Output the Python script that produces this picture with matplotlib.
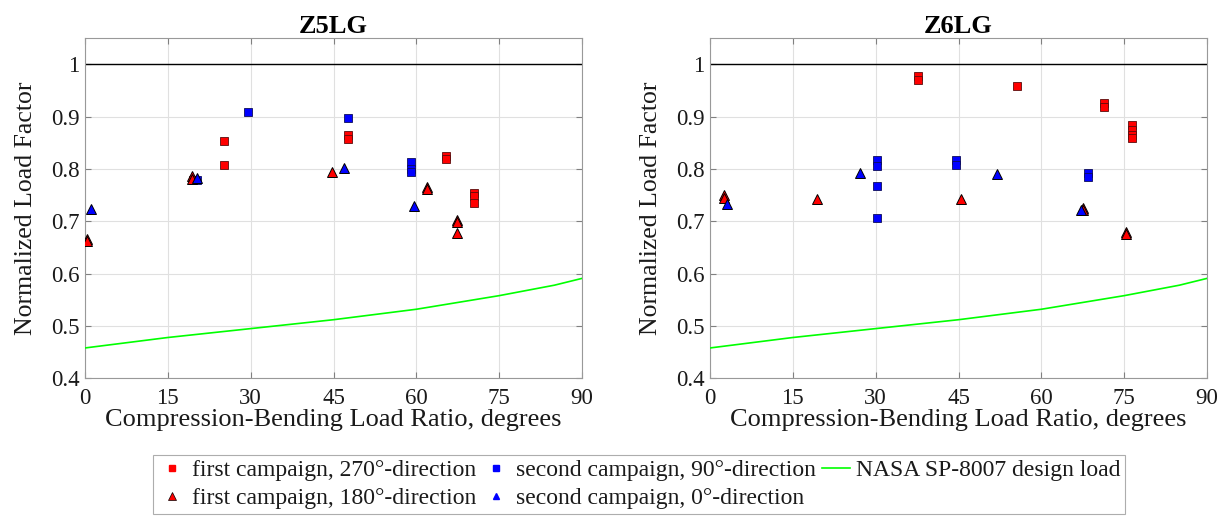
import matplotlib
matplotlib.use("Agg")
import matplotlib.pyplot as plt
from matplotlib.lines import Line2D

plt.rcParams['font.family'] = ['Liberation Serif', 'DejaVu Serif']

# ---------------- data ----------------
# Z5LG
z5_r_sq_x = [25.2, 25.2, 47.7, 47.7, 65.4, 65.4, 70.5, 70.5, 70.5, 19.6]
z5_r_sq_y = [0.854, 0.808, 0.865, 0.858, 0.825, 0.819, 0.754, 0.749, 0.735, 0.780]
z5_r_tr_x = [0.3, 0.3, 19.3, 19.4, 44.8, 61.9, 61.9, 67.3, 67.3, 67.3]
z5_r_tr_y = [0.667, 0.663, 0.786, 0.781, 0.795, 0.765, 0.762, 0.702, 0.699, 0.678]
z5_b_sq_x = [29.5, 47.6, 59.0, 59.0, 59.0, 20.3]
z5_b_sq_y = [0.910, 0.897, 0.813, 0.800, 0.795, 0.779]
z5_b_tr_x = [1.1, 20.2, 46.9, 59.6]
z5_b_tr_y = [0.724, 0.783, 0.803, 0.729]

# Z6LG
z6_r_sq_x = [37.6, 37.6, 55.6, 71.3, 71.3, 76.4, 76.4, 76.4, 76.4]
z6_r_sq_y = [0.977, 0.970, 0.959, 0.927, 0.918, 0.884, 0.875, 0.865, 0.859]
z6_r_tr_x = [2.6, 2.6, 19.3, 45.5, 67.6, 67.6, 75.3, 75.3]
z6_r_tr_y = [0.751, 0.745, 0.742, 0.743, 0.726, 0.722, 0.680, 0.676]
z6_b_sq_x = [30.3, 30.3, 30.3, 30.3, 44.6, 44.6, 68.4, 68.4]
z6_b_sq_y = [0.817, 0.805, 0.767, 0.706, 0.817, 0.808, 0.792, 0.784]
z6_b_tr_x = [3.1, 27.1, 52.0, 67.1]
z6_b_tr_y = [0.733, 0.792, 0.790, 0.721]

# NASA SP-8007 design load curve
nasa_x = [0, 15, 30, 45, 60, 67.5, 75, 85, 90]
nasa_y = [0.458, 0.478, 0.495, 0.512, 0.532, 0.545, 0.558, 0.578, 0.591]

titles = ["Z5LG", "Z6LG"]
xticks = [0, 15, 30, 45, 60, 75, 90]
yticks = [0.4, 0.5, 0.6, 0.7, 0.8, 0.9, 1.0]
ytick_labels = ["0.4", "0.5", "0.6", "0.7", "0.8", "0.9", "1"]
legend_labels = ["first campaign, 270\u00b0-direction",
                 "first campaign, 180\u00b0-direction",
                 "second campaign, 90\u00b0-direction",
                 "second campaign, 0\u00b0-direction",
                 "NASA SP-8007 design load"]

datasets = [
    (z5_r_sq_x, z5_r_sq_y, z5_r_tr_x, z5_r_tr_y, z5_b_sq_x, z5_b_sq_y, z5_b_tr_x, z5_b_tr_y),
    (z6_r_sq_x, z6_r_sq_y, z6_r_tr_x, z6_r_tr_y, z6_b_sq_x, z6_b_sq_y, z6_b_tr_x, z6_b_tr_y),
]

fig = plt.figure(figsize=(12.24, 5.16), dpi=100)
positions = [[85/1224, 1-378.3/516, 497/1224, 340/516],
             [710/1224, 1-378.3/516, 497/1224, 340/516]]

RED = (1.0, 0.0, 0.0)
BLUE = (0.0, 0.0, 1.0)
GREEN = (0.0, 1.0, 0.0)
TXT = (0.1, 0.1, 0.1)
sq_kw = dict(linestyle='none', marker='s', markersize=5.5, markeredgewidth=0.6)
tr_kw = dict(linestyle='none', marker='^', markersize=7, markeredgewidth=0.7)

for i, ax_pos in enumerate(positions):
    ax = fig.add_axes(ax_pos)
    rsx, rsy, rtx, rty, bsx, bsy, btx, bty = datasets[i]
    ax.axhline(1.0, color='k', lw=1.0, zorder=2)
    ax.plot(nasa_x, nasa_y, color=GREEN, lw=1.2, zorder=3)
    ax.plot(rsx, rsy, color=RED, markerfacecolor=RED, markeredgecolor=(0.35, 0.05, 0.05), zorder=4, **sq_kw)
    ax.plot(bsx, bsy, color=BLUE, markerfacecolor=BLUE, markeredgecolor=(0.05, 0.05, 0.35), zorder=4, **sq_kw)
    ax.plot(rtx, rty, color=RED, markerfacecolor=RED, markeredgecolor='k', zorder=5, **tr_kw)
    ax.plot(btx, bty, color=BLUE, markerfacecolor=BLUE, markeredgecolor='k', zorder=5, **tr_kw)
    ax.set_xlim(0, 90)
    ax.set_ylim(0.4, 1.05)
    ax.set_xticks(xticks)
    ax.set_yticks(yticks)
    ax.set_yticklabels(ytick_labels)
    ax.grid(True, color=(0.88, 0.88, 0.88), lw=0.8, zorder=0)
    ax.set_axisbelow(True)
    for sp in ax.spines.values():
        sp.set_color((0.6, 0.6, 0.6))
        sp.set_linewidth(0.8)
    ax.tick_params(direction='in', top=True, right=True, length=4,
                   color=(0.5, 0.5, 0.5), labelsize=16.5, labelcolor=TXT)
    ax.tick_params(axis='x', pad=7)
    ax.tick_params(axis='y', pad=4)
    ax.set_xlabel("Compression-Bending Load Ratio, degrees", fontsize=19, labelpad=0, color=TXT)
    ax.set_ylabel("Normalized Load Factor", fontsize=18.5, labelpad=10, color=TXT)
    ax.set_title(titles[i], fontsize=19, fontweight='bold', pad=4)

leg_handles = [
    Line2D([], [], linestyle='none', marker='s', markersize=4, color=RED),
    Line2D([], [], linestyle='none', marker='^', markersize=5.5, color=RED, markeredgecolor='k', markeredgewidth=0.5),
    Line2D([], [], linestyle='none', marker='s', markersize=4, color=BLUE),
    Line2D([], [], linestyle='none', marker='^', markersize=5, color=BLUE),
    Line2D([], [], color=GREEN, lw=1.2),
]
leg = fig.legend(leg_handles, legend_labels, ncol=3, loc='lower center',
                 bbox_to_anchor=(0.522, 0.0), fontsize=17, frameon=True, fancybox=False,
                 edgecolor=(0.6, 0.6, 0.6), handlelength=1.2, handletextpad=0.25,
                 columnspacing=0.25, labelspacing=0.25, borderpad=0.2, borderaxespad=0.1)
leg.get_frame().set_linewidth(0.8)
for t in leg.get_texts():
    t.set_color(TXT)

fig.savefig("out.png", dpi=100)
